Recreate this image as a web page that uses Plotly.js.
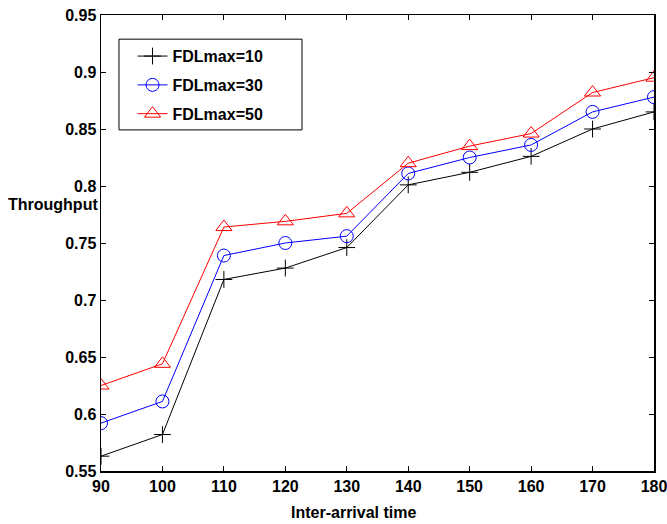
<!DOCTYPE html>
<html><head><meta charset="utf-8">
<script src="https://cdn.plot.ly/plotly-3.0.1.min.js"></script>
<style>html,body{margin:0;padding:0;background:#fff;}#chart{width:667px;height:524px;}</style>
</head><body><div id="chart"></div>
<script>
const interArrival = [90, 100, 110, 120, 130, 140, 150, 160, 170, 180];
const fdl10 = [0.563, 0.582, 0.718, 0.728, 0.746, 0.801, 0.812, 0.826, 0.850, 0.865];
const fdl30 = [0.592, 0.611, 0.739, 0.750, 0.756, 0.811, 0.825, 0.836, 0.865, 0.878];
const fdl50 = [0.625, 0.644, 0.764, 0.769, 0.776, 0.820, 0.835, 0.846, 0.882, 0.895];
const seriesNames = ['FDLmax=10', 'FDLmax=30', 'FDLmax=50'];

const fontFam = '"Liberation Sans", Arial, Helvetica, sans-serif';
const traces = [
  {x: interArrival, y: fdl10, name: seriesNames[0], legendgroup: 'g1', mode: 'lines+markers',
   line: {color: '#000000', width: 1}, marker: {symbol: 'cross-thin-open', size: 12, color: '#000000', line: {color: '#000000', width: 1}}},
  {x: interArrival, y: fdl30, name: seriesNames[1], legendgroup: 'g2', mode: 'lines+markers',
   line: {color: '#0000ff', width: 1}, marker: {symbol: 'circle-open', size: 13, color: '#0000ff', line: {color: '#0000ff', width: 1}}},
  {x: interArrival, y: fdl50, name: seriesNames[2], legendgroup: 'g3', mode: 'lines+markers',
   line: {color: '#ff0000', width: 1}, marker: {symbol: 'triangle-up-open', size: 14, color: '#ff0000', line: {color: '#ff0000', width: 1}}}
];
const axisCommon = {showgrid: false, zeroline: false, showline: true, linecolor: '#000', linewidth: 1.5,
  mirror: 'ticks', ticks: 'inside', ticklen: 5, tickcolor: '#000', tickwidth: 1,
  ticklabeloverflow: 'allow',
  tickfont: {family: fontFam, size: 16, color: '#000', weight: 'bold'}};
const layout = {
  width: 667, height: 524,
  margin: {l: 101, r: 13, t: 15, b: 53},
  paper_bgcolor: '#fff', plot_bgcolor: '#fff',
  font: {family: fontFam, color: '#000'},
  xaxis: Object.assign({}, axisCommon, {range: [90, 180], tickmode: 'linear', tick0: 90, dtick: 10}),
  yaxis: Object.assign({}, axisCommon, {range: [0.55, 0.95], tickmode: 'linear', tick0: 0.55, dtick: 0.05}),
  showlegend: true,
  legend: {x: 0.057, y: 0.947, xanchor: 'left', yanchor: 'top', borderwidth: 0,
    bgcolor: 'rgba(0,0,0,0)', font: {family: fontFam, size: 16, color: '#000', weight: 'bold'}, tracegroupgap: 5},
  shapes: [
    {type: 'rect', xref: 'paper', yref: 'paper', x0: 0.0325, x1: 0.3635, y0: 0.748, y1: 0.947,
     line: {color: '#000', width: 1}, fillcolor: 'rgba(0,0,0,0)', layer: 'above'}
  ],
  annotations: [
    {text: 'Throughput', xref: 'paper', yref: 'paper', x: -0.002, y: 0.5855, xanchor: 'right', yanchor: 'middle',
     showarrow: false, font: {family: fontFam, size: 16, color: '#000', weight: 'bold'}},
    {text: 'Inter-arrival time', xref: 'paper', yref: 'paper', x: 0.456, y: -0.092, xanchor: 'center', yanchor: 'middle',
     showarrow: false, font: {family: fontFam, size: 16, color: '#000', weight: 'bold'}}
  ]
};
Plotly.newPlot('chart', traces, layout, {displayModeBar: false, staticPlot: true});
</script></body></html>
